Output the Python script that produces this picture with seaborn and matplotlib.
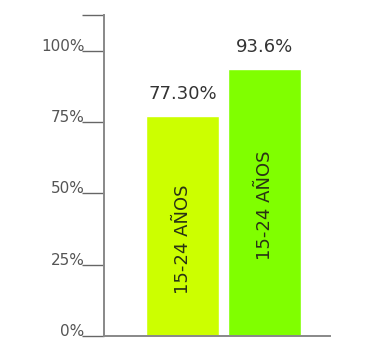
import pandas as pd
import seaborn as sns
import matplotlib.pyplot as plt

bar_ids = ['a', 'b']
bar_text = ['15-24 AÑOS', '15-24 AÑOS']
values = [77.30, 93.6]
value_labels = ['77.30%', '93.6%']
colors = ['#ccff00', '#80ff00']
yticks = [0, 25, 50, 75, 100]
ytick_labels = ['0%', '25%', '50%', '75%', '100%']

sns.set_style('white')
plt.rcParams['font.family'] = ['DejaVu Sans']

df = pd.DataFrame({'id': bar_ids, 'val': values})

fig = plt.figure(figsize=(3.87, 3.57), dpi=100)
ax = fig.add_axes([0.269, 0.059, 0.584, 0.899])
sns.barplot(data=df, x='id', y='val', hue='id', palette=colors,
            width=0.89, legend=False, ax=ax, saturation=1)

ax.set_xlim(-0.957, 1.799)
ax.set_ylim(0, 112.6)
ax.set_xticks([])
ax.set_yticks(yticks + [112.6], labels=ytick_labels + [''])
ax.tick_params(axis='y', direction='out', length=16, width=1, color='#666666',
               labelsize=11, labelcolor='#555555', pad=-2, left=True)
for t in ax.get_yticklabels():
    t.set_va('baseline')
ax.set_xlabel('')
ax.set_ylabel('')
for s in ['top', 'right']:
    ax.spines[s].set_visible(False)
for s in ['left', 'bottom']:
    ax.spines[s].set_color('#888888')
    ax.spines[s].set_linewidth(1.4)

# where the rotated text sits inside each bar (fraction of bar height)
text_frac = [0.44, 0.49]
for i, (v, lab, txt) in enumerate(zip(values, value_labels, bar_text)):
    ax.text(i, v + 4.5, lab, ha='center', va='bottom', fontsize=13, color='#333333')
    ax.text(i, v * text_frac[i], txt, rotation=90, ha='center', va='center',
            fontsize=13, color='#2a3315')

plt.savefig('out.png', dpi=100)
